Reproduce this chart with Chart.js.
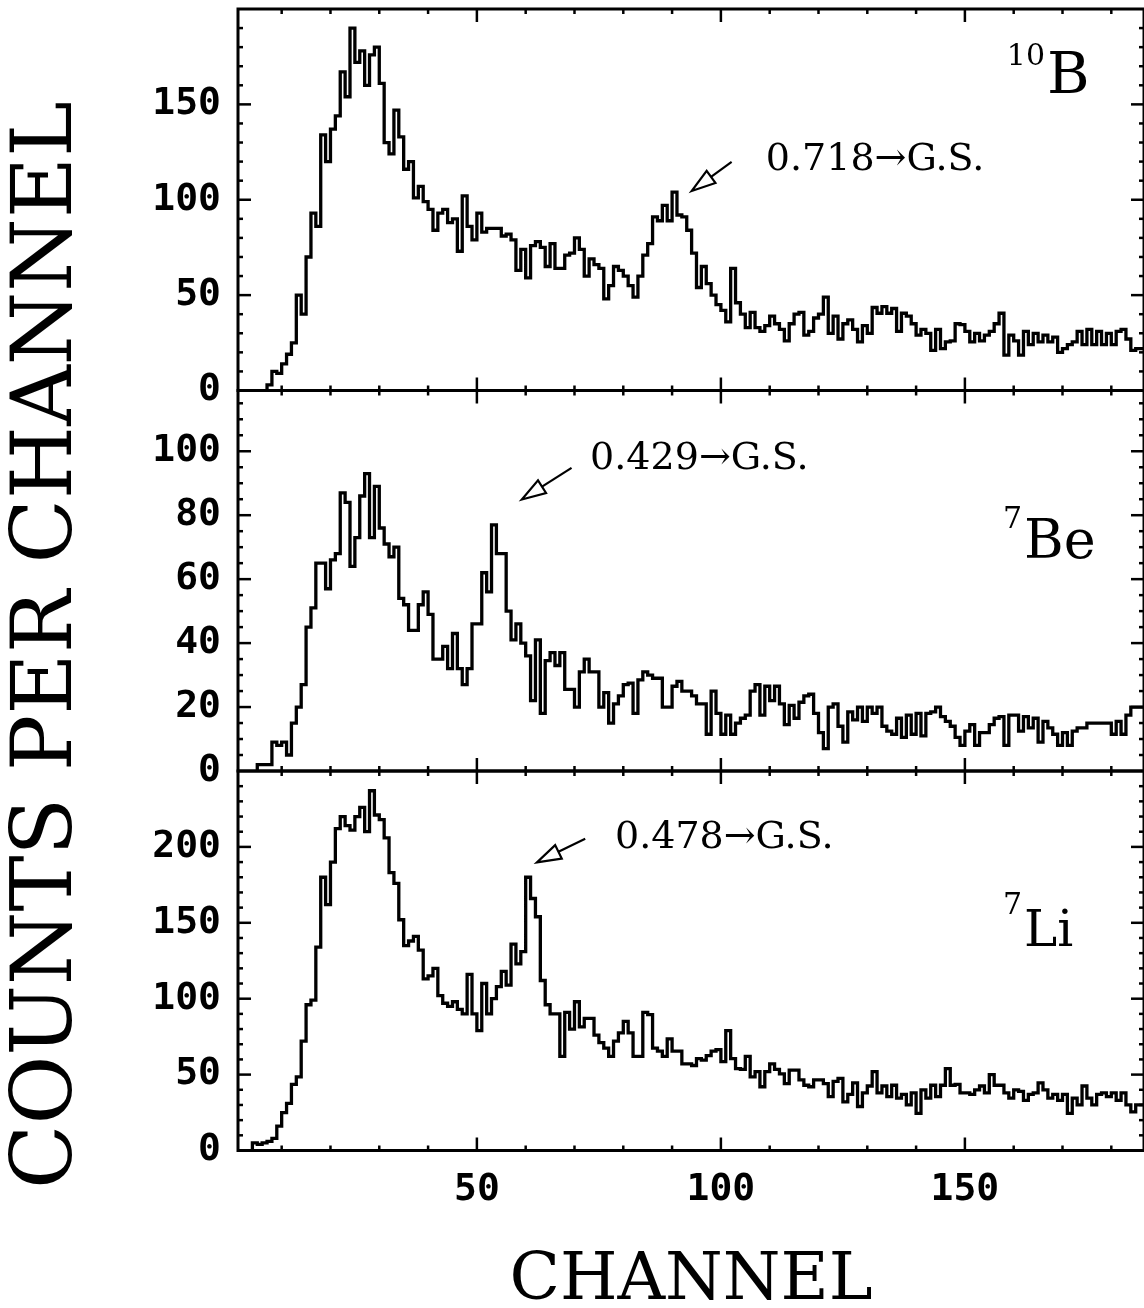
<!DOCTYPE html>
<html><head><meta charset="utf-8">
<script src="https://cdn.jsdelivr.net/npm/chart.js@4.4.1/dist/chart.umd.min.js"></script>
<style>
html,body{margin:0;padding:0;background:#fff;overflow:hidden;}
#wrap{position:relative;width:1144px;height:1308px;background:#fff;}
canvas{position:absolute;left:0;top:0;}
</style></head><body>
<div id="wrap">
<canvas id="c1" width="1144" height="1308"></canvas>
<canvas id="c2" width="1144" height="1308"></canvas>
<canvas id="c3" width="1144" height="1308"></canvas>
</div>
<script>
// ---------------- DATA (counts per channel, index = channel number) ----------------
const b10Counts = [null,null,null,null,null,null,null,0,3,10,9,14,19,25,50,40,70,93,86,134,120,
137,144,167,154,190,172,178,160,176,180,161,130,124,147,133,116,120,101,107,99,
95,84,93,95,88,90,73,102,86,79,93,83,85,85,85,81,82,79,63,74,
59,76,78,75,65,77,64,64,71,72,80,74,60,69,66,64,48,55,65,63,
60,55,49,60,71,77,91,89,97,89,104,92,91,84,72,54,65,56,50,45,
42,36,64,46,40,33,41,33,31,34,39,35,32,26,35,40,41,29,31,38,
40,49,30,39,27,35,37,32,25.5,34,30,43.5,40.5,44,40.5,43,31,40.5,39,35,
29,32,30,21,32,22,25.5,26,35,34.5,31,25.5,30,26,29,31,35,40.5,18.5,29,
26,18.5,31,24,30,25.5,29,25.5,28,20,22,24,25.5,31,24,32,24,31,24,30,
24,31,32,27,21,22];

const be7Counts = [null,null,null,null,null,0,2,2,2,9,8,9,5,15,20,27,45,51,65,65,57,
66,68,87,84,64,73,86,93,73,89,76,71,67,70,54,52,44,44,52,56,
49,35,35,39,32,43,32,27,32,46,46,62,56,77,68,68,50,41,46,40,
36,22,41,18,34.5,37,33,37,25.5,25.5,20,31,35,31,31,20,24.5,15,21,23.5,
27,27.5,18,28.5,31,30,29,29,20,20,26.5,28,25,25,23.5,21,21,11.5,25,18,
11.5,17.5,11.5,15,16.5,17.5,25,27,17.5,26.5,22,26.5,21,14.5,20.5,16.5,21.5,23.5,24,18,
12,7,20,21,14,9,18.5,16,20,15.5,20,18,20,14,12.5,11.5,16.5,10.5,17.5,11.5,
18,11,18,18.5,20,17,15.5,14,10.5,8,12.5,14.5,8,12,12,14.5,16.5,17,8,17.5,
17.5,12.5,17,13.5,16.5,9,15.5,13.5,11.5,8,12,8,12.5,13.5,13.5,15,15,15,15,15,
11.5,15.5,11.5,17.5,20,20];

const li7Counts = [null,null,null,null,0,5,4,5,6,8,16,25,31,43.5,48.5,72,96,99,134,180,162,
190,212,220,214,211,220,226,210,237,221,218,206,183,176,152,135,138,141,132,113,
115,120,102,97,95,98,93,90,116,90,79,110,90,100,108,118,109,136,123,131,
180,166,154,112,96,90,90,62,91,80,98,81.5,87,87,76,71,67.5,62,72,77.5,
85,77.5,62,62,91,89.5,67.5,65.5,62,73.5,65.5,65.5,57,57,56,60.5,59.5,62.5,65.5,66.5,
58.5,79,60.5,54,53.5,62,48.5,52,42,52,57,53.5,50.5,44,53,53,46.5,43,42,46.5,
46.5,44,35.5,45.5,47.5,32,37,44.5,29,38,42.5,52,38,42.5,35.5,43,34.5,37,30,38,
24.5,40,34.5,43,35.5,43,54,43,43.5,38,38,37,40,42.5,38,50,43,43,38,34.5,
40,39,33,37,38,44.5,40,34.5,37,33,37,24.5,34.5,30,42.5,34.5,30,37,38,35.5,
38,33,38,30,25.5,30];

const channels = b10Counts.map((_, i) => i);

// axis ticks
const xTickLabels = [50, 100, 150];
const xMinorTicks = [10,20,30,40,50,60,70,80,90,100,110,120,130,140,150,160,170,180];
const b10YTicks = [0, 50, 100, 150];
const be7YTicks = [0, 20, 40, 60, 80, 100];
const li7YTicks = [0, 50, 100, 150, 200];

const X_MIN = 1.05, X_MAX = 186.7;
const W = 1144, H = 1308;

function toPoints(counts) {
  const pts = counts.map((v, i) => ({x: channels[i], y: v}));
  pts.push({x: channels[channels.length - 1] + 1, y: counts[counts.length - 1]});
  return pts;
}

function minorList(step, max) {
  const out = [];
  for (let v = step; v < max; v += step) out.push(v);
  return out;
}

const decorPlugin = {
  id: 'decor',
  afterDatasetsDraw(chart, args, o) {
    const {ctx, chartArea: a} = chart;
    const xs = chart.scales.x, ys = chart.scales.y;
    ctx.save();
    ctx.strokeStyle = '#000';
    ctx.fillStyle = '#000';
    const seg = (x1, y1, x2, y2) => { ctx.beginPath(); ctx.moveTo(x1, y1); ctx.lineTo(x2, y2); ctx.stroke(); };
    ctx.lineWidth = 2.5;
    xMinorTicks.forEach(v => {
      if (v < X_MIN || v > X_MAX) return;
      const px = xs.getPixelForValue(v);
      const len = xTickLabels.includes(v) ? 13 : 5;
      seg(px, a.top, px, a.top + len);
      seg(px, a.bottom, px, a.bottom - len);
    });
    minorList(o.yMinor, o.yMax).forEach(v => {
      const py = ys.getPixelForValue(v);
      const len = o.yMajor.includes(v) ? 13 : 5;
      seg(a.left, py, a.left + len, py);
      seg(a.right, py, a.right - len, py);
    });
    ctx.lineWidth = 3;
    ctx.strokeRect(a.left, a.top, a.right - a.left, a.bottom - a.top);

    // transition annotation with arrow
    const n = o.note;
    const tipX = xs.getPixelForValue(n.tip[0]), tipY = ys.getPixelForValue(n.tip[1]);
    const tailX = xs.getPixelForValue(n.tail[0]), tailY = ys.getPixelForValue(n.tail[1]);
    const ang = Math.atan2(tailY - tipY, tailX - tipX);
    const hl = 24, hw = 7.5;
    const bx = tipX + hl * Math.cos(ang), by = tipY + hl * Math.sin(ang);
    const px = -Math.sin(ang), py = Math.cos(ang);
    ctx.lineWidth = 2.2;
    seg(tailX, tailY, bx, by);
    ctx.beginPath();
    ctx.moveTo(tipX, tipY);
    ctx.lineTo(bx + hw * px, by + hw * py);
    ctx.lineTo(bx - hw * px, by - hw * py);
    ctx.closePath();
    ctx.fillStyle = '#fff'; ctx.fill();
    ctx.stroke();
    ctx.fillStyle = '#000';
    ctx.font = '38px "DejaVu Serif"';
    ctx.textAlign = 'left';
    ctx.textBaseline = 'alphabetic';
    ctx.fillText(n.text, xs.getPixelForValue(n.at[0]), ys.getPixelForValue(n.at[1]));

    // nuclide label
    const L = o.nuclide;
    const lx = xs.getPixelForValue(L.at[0]), ly = ys.getPixelForValue(L.at[1]);
    ctx.font = L.supSize + 'px "DejaVu Serif"';
    ctx.fillText(L.sup, lx, ly - L.supRise);
    const sw = ctx.measureText(L.sup).width;
    ctx.font = L.size + 'px "DejaVu Serif"';
    ctx.fillText(L.main, lx + sw + 2, ly);

    if (o.yTitle) {
      ctx.save();
      ctx.translate(49, 645);
      ctx.rotate(-Math.PI / 2);
      ctx.font = '84px "DejaVu Serif"';
      ctx.textAlign = 'center';
      ctx.textBaseline = 'middle';
      ctx.fillText(o.yTitle, 0, 0);
      ctx.restore();
    }
    ctx.restore();
  }
};

const tickFont = {family: '"DejaVu Sans Mono"', size: 38, weight: 'bold'};

function makePanel(id, counts, yMax, yTicks, yMinor, top, bottom, showX, note, nuclide, yTitle) {
  const noPad = s => { s.paddingTop = 0; s.paddingBottom = 0; s.paddingLeft = 0; s.paddingRight = 0; };
  return new Chart(document.getElementById(id), {
    type: 'line',
    data: {
      datasets: [{
        data: toPoints(counts),
        stepped: 'after',
        borderColor: '#000',
        borderWidth: 3.3,
        pointRadius: 0,
        fill: false,
        spanGaps: false
      }]
    },
    options: {
      responsive: false,
      animation: false,
      devicePixelRatio: 1,
      layout: {padding: {left: 0, right: 0, top: top, bottom: showX ? 0 : H - bottom}},
      plugins: {
        legend: {display: false},
        tooltip: {enabled: false},
        decor: {yMax: yMax, yMajor: yTicks, yMinor: yMinor, note: note, nuclide: nuclide, yTitle: yTitle}
      },
      scales: {
        x: {
          type: 'linear', min: X_MIN, max: X_MAX,
          display: showX,
          grid: {display: false, drawTicks: false},
          border: {display: false},
          afterBuildTicks: s => { s.ticks = xTickLabels.map(v => ({value: v})); },
          afterFit: s => { noPad(s); if (showX) s.height = H - bottom; },
          ticks: {font: tickFont, color: '#000', padding: 17, maxRotation: 0, autoSkip: false},
          title: {display: showX, text: 'CHANNEL', color: '#000',
                  font: {family: '"DejaVu Serif"', size: 66, lineHeight: 0.8}, padding: {top: 0, bottom: 0}}
        },
        y: {
          type: 'linear', min: 0, max: yMax,
          grid: {display: false, drawTicks: false},
          border: {display: false},
          afterBuildTicks: s => { s.ticks = yTicks.map(v => ({value: v})); },
          afterFit: s => { noPad(s); s.width = 238; },
          ticks: {font: tickFont, color: '#000', padding: 17}
        }
      }
    },
    plugins: [decorPlugin]
  });
}

makePanel('c1', b10Counts, 200, b10YTicks, 10, 9, 390.5, false,
  {text: '0.718\u2192G.S.', tip: [94.0, 104.6], tail: [102.2, 119.8], at: [109.2, 115.4]},
  {sup: '10', main: 'B', at: [158.6, 156], supSize: 30, size: 58, supRise: 28},
  'COUNTS PER CHANNEL');
makePanel('c2', be7Counts, 119, be7YTicks, 5, 390.5, 771, false,
  {text: '0.429\u2192G.S.', tip: [59.2, 84.9], tail: [69.4, 94.8], at: [73.2, 94.3]},
  {sup: '7', main: 'Be', at: [157.8, 66.6], supSize: 30, size: 54, supRise: 30},
  null);
makePanel('c3', li7Counts, 250, li7YTicks, 10, 771, 1150.5, true,
  {text: '0.478\u2192G.S.', tip: [62.3, 189.8], tail: [72.2, 205.4], at: [78.3, 199]},
  {sup: '7', main: 'Li', at: [157.8, 134.5], supSize: 30, size: 50, supRise: 32},
  null);
</script>
</body></html>
